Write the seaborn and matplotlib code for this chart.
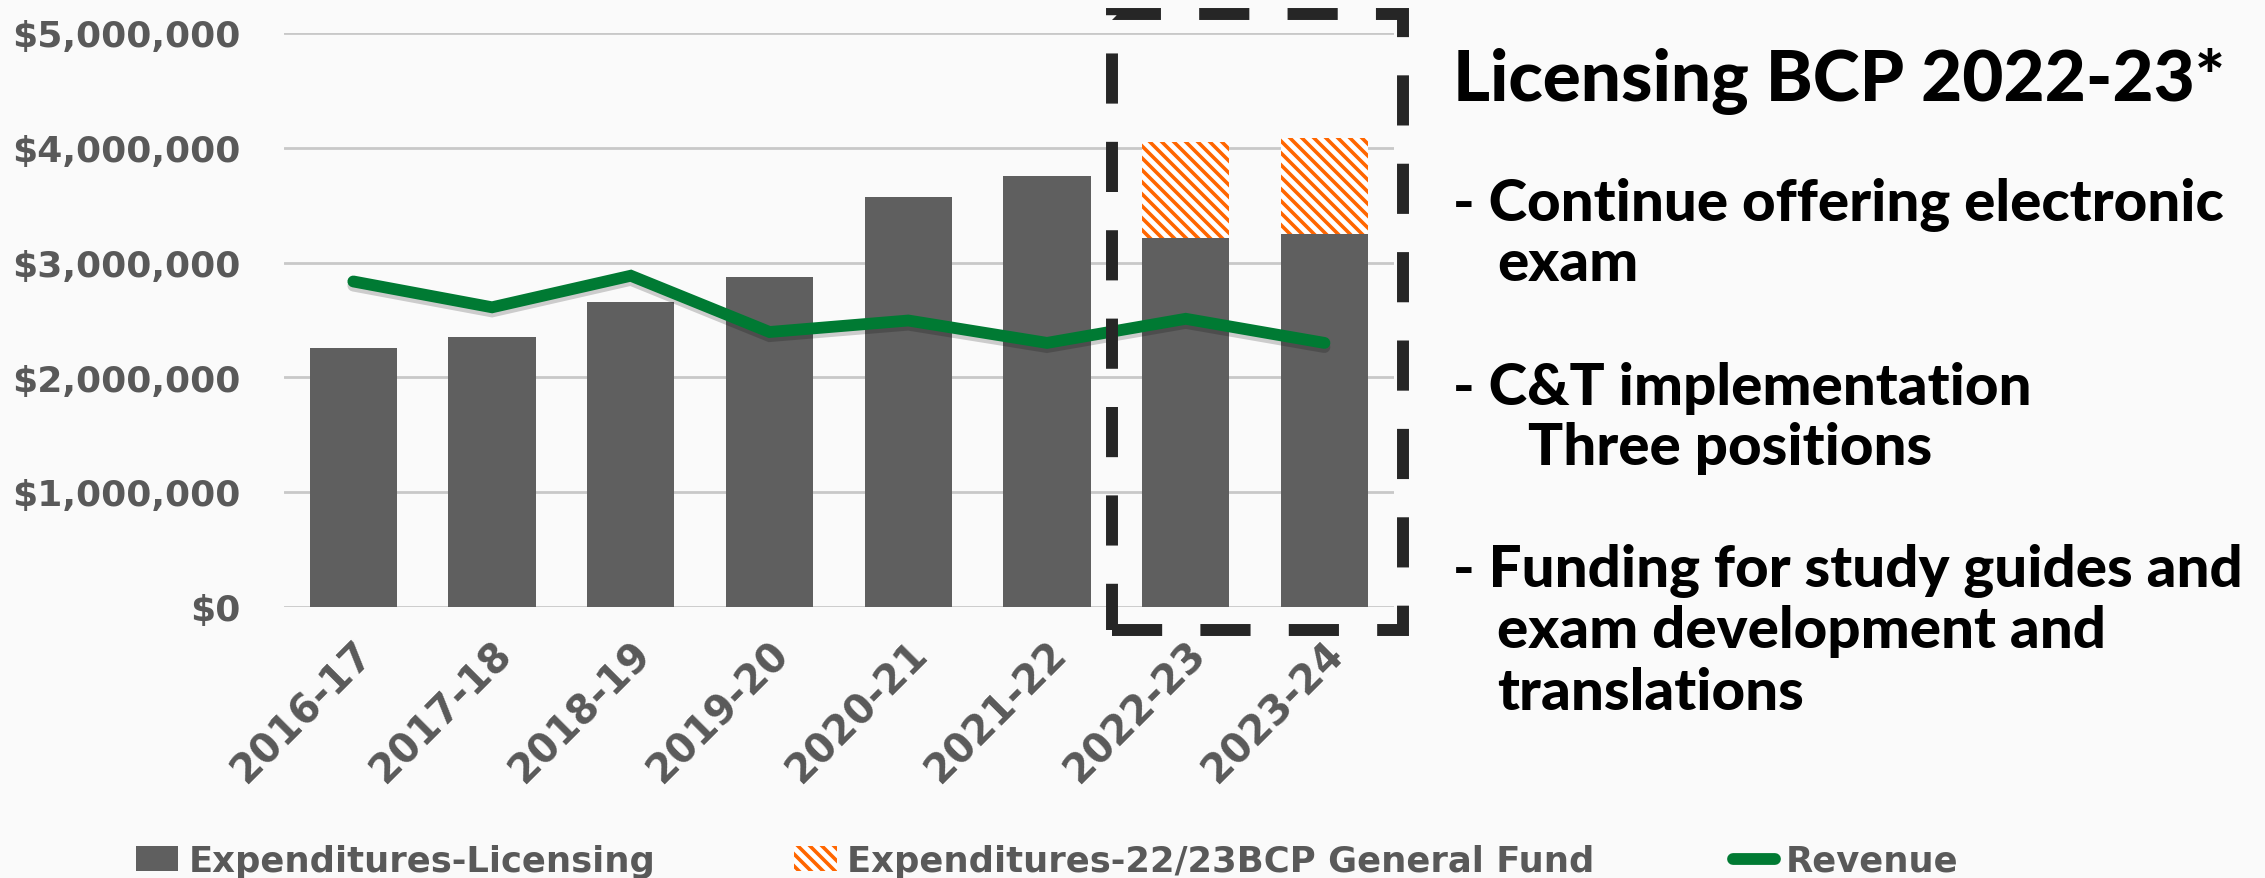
import numpy as np
import pandas as pd
import matplotlib
matplotlib.use('Agg')
import matplotlib.pyplot as plt
import matplotlib.patheffects as pe
from matplotlib.patches import Patch, Rectangle
from matplotlib.lines import Line2D
from matplotlib.ticker import StrMethodFormatter
import seaborn as sns

# values
years = ['2016-17', '2017-18', '2018-19', '2019-20', '2020-21', '2021-22', '2022-23', '2023-24']
licensing = [2255000, 2350000, 2660000, 2875000, 3570000, 3755000, 3215000, 3250000]
bcp_gf = [0, 0, 0, 0, 0, 0, 830000, 835000]
revenue = [2835000, 2610000, 2885000, 2395000, 2495000, 2300000, 2510000, 2300000]

y_ticks = [0, 1000000, 2000000, 3000000, 4000000, 5000000]
legend_labels = ['Expenditures-Licensing', 'Expenditures-22/23BCP General Fund', 'Revenue']

note_title = 'Licensing BCP 2022-23*'
note_lines = ['- Continue offering electronic', 'exam',
              '- C&T implementation', 'Three positions',
              '- Funding for study guides and', 'exam development and', 'translations']

df = pd.DataFrame({'year': years, 'licensing': licensing, 'bcp': bcp_gf, 'revenue': revenue})
df['total'] = df['licensing'] + df['bcp']

gray = '#5f5f5f'
green = '#007a33'
orange = '#ff6600'
label_col = '#595959'
bg = '#fafafa'

# drawn at 72 dpi so the hatch spacing comes out like the slide's;
# k turns sizes worked out for 100 dpi into points here
DPI = 72
k = 100 / DPI

sns.set_style('white')
plt.rcParams['font.family'] = ['DejaVu Sans']
plt.rcParams['hatch.linewidth'] = 3.6

W, H = 2266, 879
# a hair under so the pixel size is not rounded up one too many
fig = plt.figure(figsize=((W - 0.3) / DPI, (H - 0.3) / DPI), dpi=DPI, facecolor=bg)
ax = fig.add_axes([284 / W, 1 - 608 / H, (1394 - 284) / W, (608 - 33.5) / H])
ax.set_facecolor(bg)

# stacked bars: hatched total underneath, licensing on top of it
sns.barplot(data=df, x='year', y='total', color='white', width=0.63, ax=ax,
            edgecolor=orange, linewidth=0, hatch='\\\\', saturation=1)
sns.barplot(data=df, x='year', y='licensing', color=gray, width=0.63, ax=ax,
            linewidth=0, saturation=1)

xs = np.arange(len(years))
sns.lineplot(x=xs, y=df['revenue'], color=green, linewidth=8.5 * k, ax=ax, sort=False,
             solid_capstyle='round', solid_joinstyle='miter',
             path_effects=[pe.SimpleLineShadow(offset=(0, -3 * k), shadow_color='k', alpha=0.18),
                           pe.Normal()])

ax.set_xlim(-0.5, len(years) - 0.5)
ax.set_ylim(0, 5000000)
ax.set_yticks(y_ticks)
ax.yaxis.set_major_formatter(StrMethodFormatter('${x:,.0f}'))
ax.grid(axis='y', color='#c8c8c8', linewidth=2 * k)
ax.set_axisbelow(True)
for s in ax.spines.values():
    s.set_visible(False)
ax.set_xlabel('')
ax.set_ylabel('')
ax.tick_params(axis='y', length=0, pad=31 * k, labelsize=26 * k, labelcolor=label_col)
ax.tick_params(axis='x', length=0, pad=19 * k, labelsize=28.5 * k, labelcolor=label_col)
for t in ax.get_yticklabels():
    t.set_fontweight('bold')
ax.set_xticks(xs)
ax.set_xticklabels(years, rotation=45, ha='right', rotation_mode='anchor', fontweight='bold')

# dashed box round the BCP years
box = Rectangle((1112 / W, 1 - 631 / H), 291 / W, 616 / H, transform=fig.transFigure,
                fill=False, edgecolor='#262626', linewidth=8.6 * k, linestyle=(0, (4.2, 3.2)))
fig.add_artist(box)

# legend
handles = [Patch(facecolor=gray, edgecolor='none'),
           Patch(facecolor='white', edgecolor=orange, hatch='\\\\', linewidth=0),
           Line2D([0], [0], color=green, linewidth=8.5 * k, solid_capstyle='round')]
fig.legend(handles, legend_labels, loc='lower left', bbox_to_anchor=(136 / W, 0.0),
           ncol=3, frameon=False, borderaxespad=0, borderpad=0, handlelength=1.2,
           handleheight=0.7, handletextpad=0.3, columnspacing=3.9,
           prop={'family': 'DejaVu Sans', 'weight': 'bold', 'size': 25.5 * k}, labelcolor=label_col)

# notes on the right, sized so the long lines fill the same width as in the slide
renderer = fig.canvas.get_renderer()


def fit_size(txt, size, target):
    t = fig.text(0, 0, txt, family='Lato', weight='black', size=size)
    w = t.get_window_extent(renderer).width
    t.remove()
    return size * target / w


title_size = fit_size(note_title, 60, 771)
body_size = fit_size(note_lines[0], 52, 770)

fig.text(1453 / W, 1 - 101 / H, note_title, family='Lato', weight='black', size=title_size,
         va='baseline', ha='left', color='black')
note_x = [1453, 1497, 1453, 1528, 1453, 1497, 1497]
note_y = [221, 281, 405, 465, 587, 648, 710]
for txt, nx, ny in zip(note_lines, note_x, note_y):
    fig.text(nx / W, 1 - ny / H, txt, family='Lato', weight='black', size=body_size,
             va='baseline', ha='left', color='black')

fig.savefig('out.png', dpi=DPI, facecolor=bg)
